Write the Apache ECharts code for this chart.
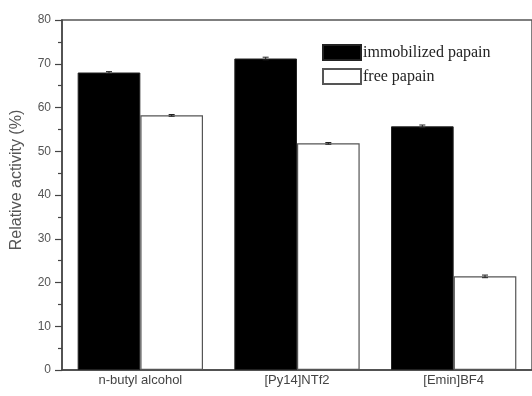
<!DOCTYPE html>
<html>
<head>
<meta charset="utf-8">
<script src="https://cdn.jsdelivr.net/npm/echarts@6/dist/echarts.min.js"></script>
<style>html,body{margin:0;padding:0;background:#fff;}#c{width:532px;height:396px;}</style>
</head>
<body>
<div id="c"></div>
<script>
const categories = ['n-butyl alcohol', '[Py14]NTf2', '[Emin]BF4'];
const immobilized = [68.0, 71.2, 55.7];
const free = [58.2, 51.8, 21.4];
const immobilizedErr = [0.2, 0.3, 0.3];
const freeErr = [0.2, 0.2, 0.3];
const seriesNames = ['immobilized papain', 'free papain'];
const yTitle = 'Relative activity (%)';

const chart = echarts.init(document.getElementById('c'), null, {renderer: 'canvas'});

function errItem(values, errs, side) {
  return function (params, api) {
    const i = api.value(0);
    const v = values[i], e = errs[i];
    const band = api.size([1, 0])[0];
    const off = side * band * 0.2;
    const lo = api.coord([i, v - e]);
    const hi = api.coord([i, v + e]);
    const x = lo[0] + off;
    const w = 3;
    const st = {stroke: '#222', lineWidth: 1};
    return {
      type: 'group',
      children: [
        {type: 'line', shape: {x1: x, y1: lo[1], x2: x, y2: hi[1]}, style: st},
        {type: 'line', shape: {x1: x - w, y1: hi[1], x2: x + w, y2: hi[1]}, style: st},
        {type: 'line', shape: {x1: x - w, y1: lo[1], x2: x + w, y2: lo[1]}, style: st}
      ]
    };
  };
}

const option = {
  animation: false,
  backgroundColor: '#fff',
  grid: {left: 62, top: 20, width: 471, height: 350, show: true, borderColor: '#555', borderWidth: 1.5, backgroundColor: 'transparent'},
  legend: {
    left: 317, top: 39, orient: 'vertical', itemWidth: 38, itemHeight: 15, itemGap: 7,
    icon: 'rect',
    textStyle: {fontFamily: 'Liberation Serif', fontSize: 16, color: '#222', padding: [0, 0, 0, -3]},
    data: seriesNames
  },
  xAxis: [
    {
      type: 'category', data: categories, position: 'bottom',
      axisLine: {lineStyle: {color: '#444', width: 1.5}},
      axisTick: {alignWithLabel: true, length: 6, lineStyle: {color: '#444', width: 1.2}},
      axisLabel: {fontFamily: 'Liberation Sans', fontSize: 13, color: '#444', margin: 4}
    },
    {
      type: 'category', data: categories, position: 'bottom', gridIndex: 0,
      axisLine: {show: false},
      axisTick: {length: 3, lineStyle: {color: '#444', width: 1.2}},
      axisLabel: {show: false}
    }
  ],
  yAxis: {
    type: 'value', min: 0, max: 80, interval: 10,
    axisLine: {show: true, lineStyle: {color: '#444', width: 1.5}},
    axisTick: {show: true, length: 7, lineStyle: {color: '#444', width: 1.2}},
    minorTick: {show: true, splitNumber: 2, length: 4, lineStyle: {color: '#444', width: 1.2}},
    splitLine: {show: false},
    axisLabel: {fontFamily: 'Liberation Sans', fontSize: 12, color: '#555', margin: 11}
  },
  graphic: [{
    type: 'text', x: 17, y: 180, rotation: Math.PI / 2,
    style: {text: yTitle, font: '16px "Liberation Sans"', fill: '#555', align: 'center', verticalAlign: 'middle'}
  }],
  series: [
    {
      name: seriesNames[0], type: 'bar', data: immobilized, barGap: '0%', barCategoryGap: '20%',
      itemStyle: {color: '#000', borderColor: '#222', borderWidth: 1}
    },
    {
      name: seriesNames[1], type: 'bar', data: free, barGap: '0%', barCategoryGap: '20%',
      itemStyle: {color: '#fff', borderColor: '#555', borderWidth: 1.2}
    },
    {
      type: 'custom', renderItem: errItem(immobilized, immobilizedErr, -1),
      data: categories.map((c, i) => [i, immobilized[i]]), z: 5, silent: true
    },
    {
      type: 'custom', renderItem: errItem(free, freeErr, 1),
      data: categories.map((c, i) => [i, free[i]]), z: 5, silent: true
    }
  ]
};
chart.setOption(option);
</script>
</body>
</html>
